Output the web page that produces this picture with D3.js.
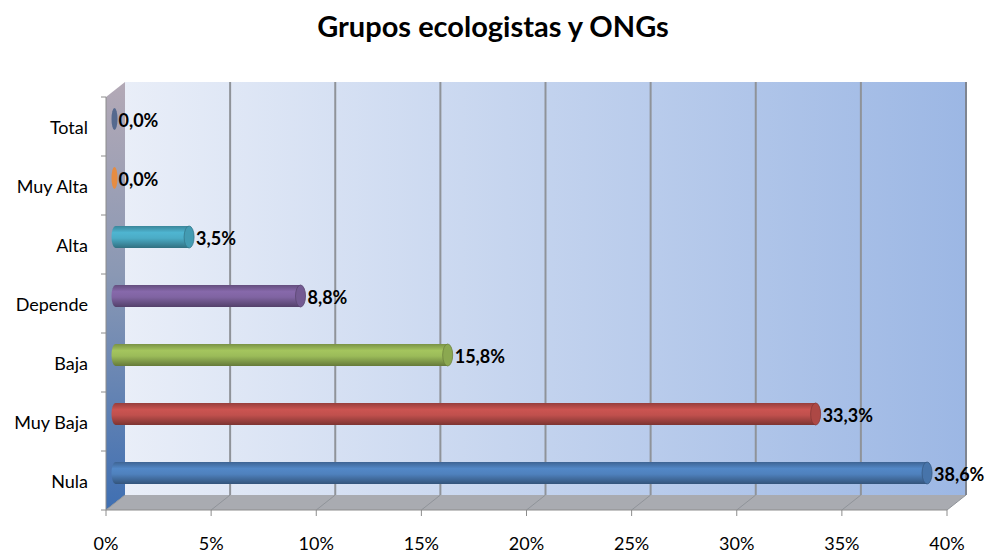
<!DOCTYPE html>
<html>
<head>
<meta charset="utf-8">
<script src="https://cdn.jsdelivr.net/npm/d3@7"></script>
<style>
  body { margin: 0; background: #fff; }
  text { font-family: Lato, "Open Sans", sans-serif; }
</style>
</head>
<body>
<script>
// data
var categories = ["Nula", "Muy Baja", "Baja", "Depende", "Alta", "Muy Alta", "Total"];
var values = [38.6, 33.3, 15.8, 8.8, 3.5, 0.0, 0.0];
var colors = ["#4F81BD", "#C0504D", "#9BBB59", "#8064A2", "#4BACC6", "#F79646", "#5B7198"];
var ticks = [0, 5, 10, 15, 20, 25, 30, 35, 40];

var width = 987, height = 554;
var dx = 19, dy = -15;   // 3d depth offset
var floorY = 510, topY = 97;

var svg = d3.select("body").append("svg")
    .attr("width", width)
    .attr("height", height);

var defs = svg.append("defs");

var wallGrad = defs.append("linearGradient").attr("id", "wall");
wallGrad.append("stop").attr("offset", "0%").attr("stop-color", "#e9eef8");
wallGrad.append("stop").attr("offset", "100%").attr("stop-color", "#9cb7e4");

var sideGrad = defs.append("linearGradient").attr("id", "side")
    .attr("x1", 0).attr("y1", 0).attr("x2", 0).attr("y2", 1);
sideGrad.append("stop").attr("offset", "0%").attr("stop-color", "#b3a9b6");
sideGrad.append("stop").attr("offset", "45%").attr("stop-color", "#8a98b4");
sideGrad.append("stop").attr("offset", "100%").attr("stop-color", "#3f6fb2");

colors.forEach(function(c, i) {
    var g = defs.append("linearGradient").attr("id", "bar" + i)
        .attr("x1", 0).attr("y1", 0).attr("x2", 0).attr("y2", 1);
    var base = d3.color(c);
    g.append("stop").attr("offset", "0%").attr("stop-color", base.darker(0.7));
    g.append("stop").attr("offset", "30%").attr("stop-color", base.brighter(0.15));
    g.append("stop").attr("offset", "55%").attr("stop-color", base);
    g.append("stop").attr("offset", "100%").attr("stop-color", base.darker(1.2));
});

var xFront = d3.scaleLinear().domain([0, 40]).range([106, 947]);
var xBack = function(v) { return xFront(v) + dx; };
var xBar = function(v) { return xFront(v) + dx / 2; };

var y = d3.scaleBand().domain(categories).range([floorY, topY]);

// title
svg.append("text")
    .attr("x", 493).attr("y", 37)
    .attr("text-anchor", "middle")
    .style("font-size", "29px")
    .style("font-weight", "bold")
    .text("Grupos ecologistas y ONGs");

// back wall
svg.append("rect")
    .attr("x", xBack(0)).attr("y", topY + dy)
    .attr("width", xBack(40) - xBack(0))
    .attr("height", floorY - topY)
    .attr("fill", "url(#wall)");

// side wall
svg.append("polygon")
    .attr("points", [[xFront(0), topY], [xBack(0), topY + dy], [xBack(0), floorY + dy], [xFront(0), floorY]].join(" "))
    .attr("fill", "url(#side)");

// floor
svg.append("polygon")
    .attr("points", [[xFront(0), floorY], [xBack(0), floorY + dy], [xBack(40), floorY + dy], [xFront(40), floorY]].join(" "))
    .attr("fill", "#a9abb1");

// grid lines on the wall and floor
svg.selectAll(".grid").data(ticks.slice(1)).enter().append("line")
    .attr("class", "grid")
    .attr("x1", function(d) { return xBack(d); })
    .attr("x2", function(d) { return xBack(d); })
    .attr("y1", topY + dy)
    .attr("y2", floorY + dy)
    .attr("stroke", function(d) { return d === 40 ? "#7f8590" : "#8f9399"; })
    .attr("stroke-width", 2);

svg.selectAll(".fgrid").data(ticks).enter().append("line")
    .attr("class", "fgrid")
    .attr("x1", function(d) { return xFront(d); })
    .attr("x2", function(d) { return xBack(d); })
    .attr("y1", floorY)
    .attr("y2", floorY + dy)
    .attr("stroke", "#8f9399")
    .attr("stroke-width", 1);

// axes lines
svg.append("line")
    .attr("x1", xFront(0)).attr("x2", xFront(40))
    .attr("y1", floorY).attr("y2", floorY)
    .attr("stroke", "#8c8c8c");
svg.selectAll(".xt").data(ticks).enter().append("line")
    .attr("x1", function(d) { return xFront(d); })
    .attr("x2", function(d) { return xFront(d); })
    .attr("y1", floorY).attr("y2", floorY + 6)
    .attr("stroke", "#8c8c8c");

svg.append("line")
    .attr("x1", xFront(0)).attr("x2", xFront(0))
    .attr("y1", topY).attr("y2", floorY)
    .attr("stroke", "#8c8c8c");
var yEdges = d3.range(categories.length + 1).map(function(i) { return floorY - i * y.step(); });
svg.selectAll(".yt").data(yEdges).enter().append("line")
    .attr("x1", xFront(0) - 5).attr("x2", xFront(0))
    .attr("y1", function(d) { return d; })
    .attr("y2", function(d) { return d; })
    .attr("stroke", "#8c8c8c");

// tick labels
svg.selectAll(".xl").data(ticks).enter().append("text")
    .attr("x", function(d) { return xFront(d); })
    .attr("y", 550)
    .attr("text-anchor", "middle")
    .style("font-size", "18px")
    .text(function(d) { return d + "%"; });

svg.selectAll(".yl").data(categories).enter().append("text")
    .attr("x", 88)
    .attr("y", function(d) { return y(d) + y.bandwidth() / 2 + 7; })
    .attr("text-anchor", "end")
    .style("font-size", "18px")
    .text(function(d) { return d; });

// bars as cylinders
var barH = 22, capR = 4;
var bars = svg.selectAll(".bar").data(categories).enter().append("g")
    .attr("class", "bar")
    .attr("transform", function(d) { return "translate(0," + (y(d) + y.bandwidth() / 2 + dy / 2) + ")"; });

bars.each(function(d, i) {
    var g = d3.select(this);
    var v = values[i];
    var x0 = xBar(0), x1 = xBar(v);
    if (v > 0) {
        g.append("ellipse")
            .attr("cx", x0).attr("cy", 0)
            .attr("rx", capR).attr("ry", barH / 2)
            .attr("fill", "url(#bar" + i + ")");
        g.append("rect")
            .attr("x", x0).attr("y", -barH / 2)
            .attr("width", x1 - x0).attr("height", barH)
            .attr("fill", "url(#bar" + i + ")");
        g.append("ellipse")
            .attr("cx", x1).attr("cy", 0)
            .attr("rx", capR + 1).attr("ry", barH / 2)
            .attr("fill", d3.color(colors[i]).darker(0.3))
            .attr("stroke", d3.color(colors[i]).darker(1))
            .attr("stroke-width", 0.8);
    } else {
        g.append("ellipse")
            .attr("cx", x0 - 1).attr("cy", 0)
            .attr("rx", 3).attr("ry", barH / 2)
            .attr("fill", d3.color(colors[i]).darker(0.2));
    }
    g.append("text")
        .attr("x", (v > 0 ? x1 + capR + 3 : x0 + 3))
        .attr("y", 8)
        .style("font-size", "18px")
        .style("font-weight", "bold")
        .text(v.toFixed(1).replace(".", ",") + "%");
});
</script>
</body>
</html>
